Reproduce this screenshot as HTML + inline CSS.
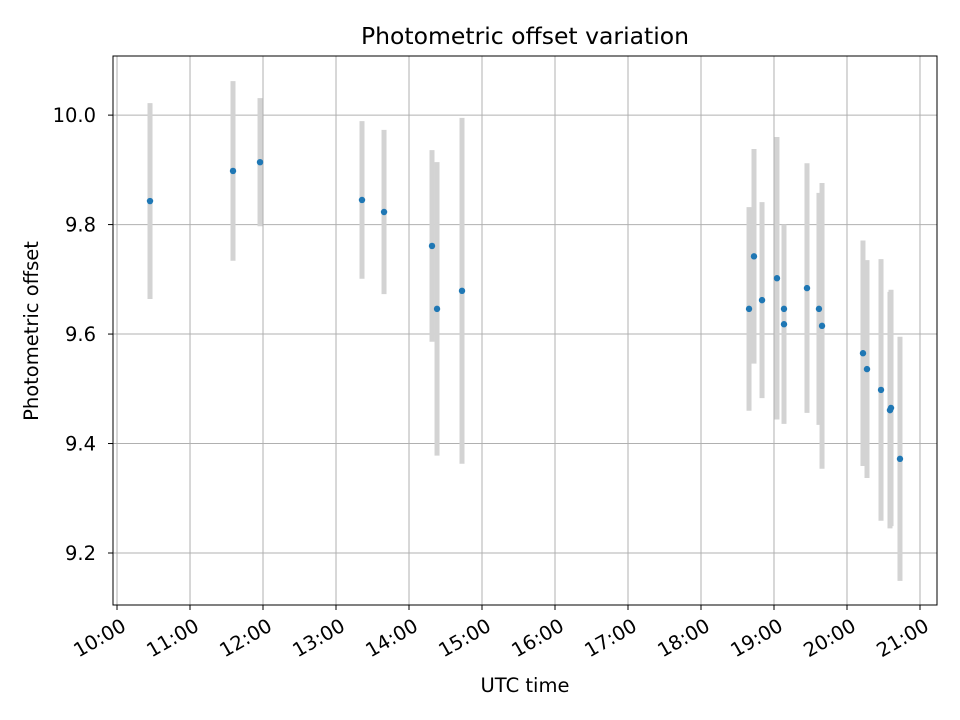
<!DOCTYPE html>
<html><head><meta charset="utf-8"><style>body{margin:0;background:#fff}svg{display:block;font-family:"DejaVu Sans","Liberation Sans",sans-serif}</style></head>
<body>
<svg id="chart" width="960" height="720">
<rect x="0" y="0" width="960" height="720" fill="#fff"/>
<g id="grid"></g><g id="bars"></g><g id="pts"></g><g id="axes"></g>
<text x="525" y="44" text-anchor="middle" font-size="23.5">Photometric offset variation</text>
<text x="525" y="692" text-anchor="middle" font-size="19.5">UTC time</text>
<text transform="translate(38,331) rotate(-90)" text-anchor="middle" font-size="19.5">Photometric offset</text>
</svg>
<script>
const times=[10.452,11.589,11.959,13.356,13.658,14.315,14.384,14.726,18.658,18.726,18.836,19.041,19.137,19.137,19.452,19.616,19.658,20.219,20.274,20.466,20.589,20.603,20.726];
const offsets=[9.843,9.898,9.914,9.845,9.823,9.761,9.646,9.679,9.646,9.742,9.662,9.702,9.646,9.618,9.684,9.646,9.615,9.565,9.536,9.498,9.461,9.465,9.372];
const errors=[0.179,0.164,0.117,0.144,0.15,0.175,0.268,0.316,0.186,0.196,0.179,0.258,0.153,0.182,0.228,0.212,0.261,0.206,0.199,0.239,0.216,0.216,0.223];
const xTicks=[10,11,12,13,14,15,16,17,18,19,20,21];
const xTickLabels=["10:00","11:00","12:00","13:00","14:00","15:00","16:00","17:00","18:00","19:00","20:00","21:00"];
const yTicks=[9.2,9.4,9.6,9.8,10.0];
const yTickLabels=["9.2","9.4","9.6","9.8","10.0"];
const L=113,R=937,T=56,B=605;
const xMin=9.945,xMax=21.233,yMin=9.105,yMax=10.108;
const xs=v=>L+(v-xMin)/(xMax-xMin)*(R-L);
const ys=v=>B-(v-yMin)/(yMax-yMin)*(B-T);
const NS="http://www.w3.org/2000/svg";
function mk(tag,attrs,parent){const e=document.createElementNS(NS,tag);for(const k in attrs)e.setAttribute(k,attrs[k]);document.getElementById(parent).appendChild(e);return e;}
xTicks.forEach((t,i)=>{const x=xs(t);
 const g=mk('line',{x1:x,x2:x,y1:T,y2:B,stroke:'#b0b0b0','stroke-width':1},'grid');
 
 
 const tk=mk('line',{x1:x,x2:x,y1:B,y2:B+5,stroke:'#000','stroke-width':1},'axes');
 
 
 const tx=mk('text',{transform:`translate(${x+3},${B+12}) rotate(-30)`,'text-anchor':'end','font-size':19.5,dy:'0.75em'},'axes');
 tx.textContent=xTickLabels[i];
 
 
});
yTicks.forEach((v,i)=>{const y=ys(v);
 const g=mk('line',{x1:L,x2:R,y1:y,y2:y,stroke:'#b0b0b0','stroke-width':1},'grid');
 
 
 const tk=mk('line',{x1:L-5,x2:L,y1:y,y2:y,stroke:'#000','stroke-width':1},'axes');
 
 
 const tx=mk('text',{x:L-17,y:y+7,'text-anchor':'end','font-size':19.5},'axes');
 tx.textContent=yTickLabels[i];
 
 
});
const fr=mk('rect',{x:L,y:T,width:R-L,height:B-T,fill:'none',stroke:'#000','stroke-width':1},'axes');


times.forEach((t,i)=>{const x=xs(t);
 const b=mk('line',{x1:x,x2:x,y1:ys(offsets[i]+errors[i]),y2:ys(offsets[i]-errors[i]),stroke:'#d3d3d3','stroke-width':5},'bars');
 
 
 const p=mk('circle',{cx:x,cy:ys(offsets[i]),r:3.2,fill:'#1f77b4'},'pts');
 
 
});
</script>
</body></html>
